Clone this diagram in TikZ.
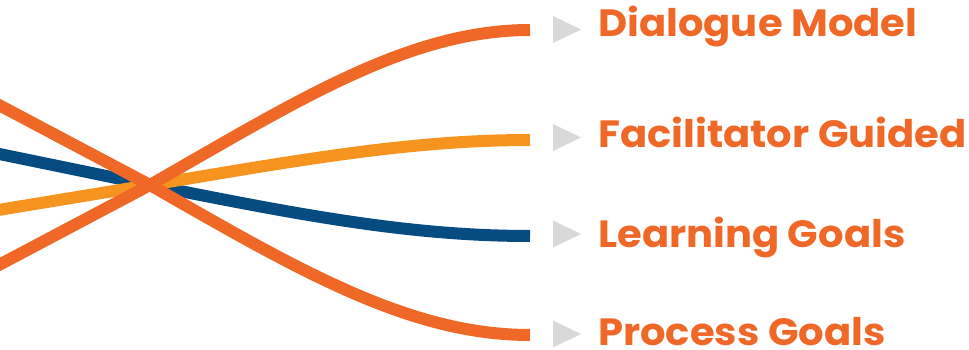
\documentclass[tikz,border=0pt]{standalone}
\usepackage{fontspec}
\setmainfont{Poppins}
\definecolor{cOrange}{HTML}{F06828}
\definecolor{cYellow}{HTML}{F79420}
\definecolor{cBlue}{HTML}{064C81}
\definecolor{cGray}{HTML}{D9D9D9}
\newcommand{\wlbl}[1]{\scalebox{1.055}[1]{#1}}
\tikzset{
  band/.style={line width=12pt},
  lbl/.style={anchor=base west, inner sep=0pt, text=cOrange, font=\fontsize{38}{40}\selectfont\bfseries},
  tri/.style={fill=cGray}
}
\begin{document}
\begin{tikzpicture}[x=1pt,y=-1pt]
\useasboundingbox (0,0) rectangle (969,350);
\coordinate (X) at (150,185);
% right end points
\coordinate (eD) at (530,30);
\coordinate (eF) at (530,140);
\coordinate (eL) at (530,236);
\coordinate (eP) at (530,335);
\begin{scope}
\clip (0,0) rectangle (969,350);
% blue: learning goals
\draw[band, cBlue] (-20,150) -- (X) .. controls (300,215) and (410,236) .. (eL);
% yellow: facilitator
\draw[band, cYellow] (-20,213) -- (X) .. controls (300,160) and (410,140) .. (eF);
% orange: process goals (from top-left)
\draw[band, cOrange] (-20,95) -- (X) .. controls (300,271) and (410,335) .. (eP);
% orange: dialogue model (from bottom-left)
\draw[band, cOrange] (-20,275) -- (X) .. controls (300,99) and (410,30) .. (eD);
\end{scope}
% triangles
\fill[tri] (553,16) -- (581,29.5) -- (553,43) -- cycle;
\fill[tri] (553,124) -- (581,137.5) -- (553,151) -- cycle;
\fill[tri] (553,220.5) -- (581,234) -- (553,247.5) -- cycle;
\fill[tri] (553,320.5) -- (581,334) -- (553,347.5) -- cycle;
% labels
\node[lbl] (tD) at (598,37) {\wlbl{Dialogue Model}};
\node[lbl] (tF) at (598,147) {\wlbl{Facilitator Guided}};
\node[lbl] (tL) at (598,247) {\wlbl{Learning Goals}};
\node[lbl] (tP) at (598,345) {\wlbl{Process Goals}};
\end{tikzpicture}
\end{document}
